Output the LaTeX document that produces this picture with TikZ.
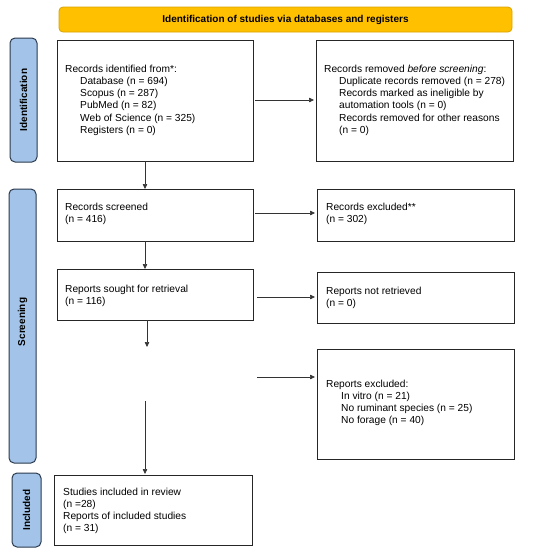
\documentclass[tikz,border=0pt]{standalone}
\usepackage{fontspec}
\setmainfont{Liberation Sans}
\usetikzlibrary{arrows.meta}
\definecolor{bannerfill}{HTML}{FFC000}
\definecolor{bannerdraw}{HTML}{D9A300}
\definecolor{sidefill}{HTML}{A3C4E8}
\definecolor{sidedraw}{HTML}{2B3A4E}
\tikzset{
  box/.style={draw=black!85, line width=0.8pt, fill=white, anchor=north west, inner sep=0pt},
  side/.style={draw=sidedraw, fill=sidefill, line width=1pt, rounded corners=5pt},
  sidetext/.style={rotate=90, font=\bfseries\fontsize{10}{12}\selectfont},
  txt/.style={anchor=north west, align=left, inner sep=0pt, font=\fontsize{10.2}{12.3}\selectfont},
  arr/.style={draw=black!80, line width=0.6pt, -{Triangle[length=5pt,width=4.5pt]}}
}
\begin{document}
\begin{tikzpicture}[x=1pt,y=-1pt]
\useasboundingbox (0,0) rectangle (550,555);
% banner
\draw[fill=bannerfill, draw=bannerdraw, line width=0.8pt, rounded corners=4pt] (59,7) rectangle (512,32);
\node (banner) at (285.5,19.5) {\bfseries\fontsize{10}{12}\selectfont Identification of studies via databases and registers};
% side labels
\draw[side] (10,38) rectangle (37,162);
\node[sidetext] (sid) at (23.5,100) {Identification};
\draw[side] (9,189) rectangle (36,463);
\node[sidetext] (sscr) at (22.5,322) {Screening};
\draw[side] (12,473) rectangle (41,547);
\node[sidetext] (sinc) at (26.5,510) {Included};
% boxes
\draw[box] (57,40) rectangle (253,161);
\draw[box] (316,40) rectangle (513,161);
\draw[box] (57,189) rectangle (253,241);
\draw[box] (317,189) rectangle (514,241);
\draw[box] (57,269) rectangle (253,320);
\draw[box] (317,272) rectangle (514,323);
\draw[box] (317,349) rectangle (514,459);
\draw[box] (54,475) rectangle (252,545);
% texts
\node[txt] (t1) at (65,64.5) {Records identified from*:\\
\hspace*{15pt}Database (n = 694)\\
\hspace*{15pt}Scopus (n = 287)\\
\hspace*{15pt}PubMed (n = 82)\\
\hspace*{15pt}Web of Science (n = 325)\\
\hspace*{15pt}Registers (n = 0)};
\node[txt] (t2) at (324,64.5) {Records removed \emph{before screening}:\\
\hspace*{15pt}Duplicate records removed (n = 278)\\
\hspace*{15pt}Records marked as ineligible by\\
\hspace*{15pt}automation tools (n = 0)\\
\hspace*{15pt}Records removed for other reasons\\
\hspace*{15pt}(n = 0)};
\node[txt] (t3) at (65,202.5) {Records screened\\(n = 416)};
\node[txt] (t4) at (326,202.5) {Records excluded**\\(n = 302)};
\node[txt] (t5) at (65,284.5) {Reports sought for retrieval\\(n = 116)};
\node[txt] (t6) at (326,286.5) {Reports not retrieved\\(n = 0)};
\node[txt] (t7) at (326,379.5) {Reports excluded:\\
\hspace*{15pt}In vitro (n = 21)\\
\hspace*{15pt}No ruminant species (n = 25)\\
\hspace*{15pt}No forage (n = 40)};
\node[txt] (t8) at (63,487.5) {Studies included in review\\(n =28)\\Reports of included studies\\(n = 31)};
% arrows
\coordinate (a1s) at (255,100); \coordinate (a1e) at (314,100);
\draw[arr] (a1s) -- (a1e);
\coordinate (d1s) at (145,161); \coordinate (d1e) at (145,189);
\draw[arr] (d1s) -- (d1e);
\coordinate (a2s) at (255,213); \coordinate (a2e) at (315,213);
\draw[arr] (a2s) -- (a2e);
\coordinate (d2s) at (145,241); \coordinate (d2e) at (145,269);
\draw[arr] (d2s) -- (d2e);
\coordinate (a3s) at (257,297); \coordinate (a3e) at (315,297);
\draw[arr] (a3s) -- (a3e);
\coordinate (d3s) at (147,320); \coordinate (d3e) at (147,347);
\draw[arr] (d3s) -- (d3e);
\coordinate (a4s) at (257,377); \coordinate (a4e) at (315,377);
\draw[arr] (a4s) -- (a4e);
\coordinate (d4s) at (145,401); \coordinate (d4e) at (145,474);
\draw[arr] (d4s) -- (d4e);
\end{tikzpicture}
\end{document}
